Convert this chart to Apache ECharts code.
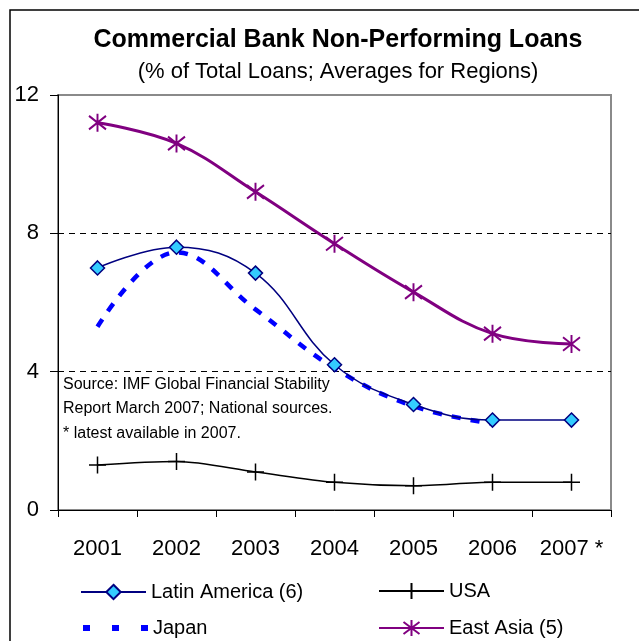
<!DOCTYPE html>
<html>
<head>
<meta charset="utf-8">
<script src="https://cdn.jsdelivr.net/npm/echarts@6/dist/echarts.min.js"></script>
<style>
  html, body { margin: 0; padding: 0; background: #fff; }
  #chart { width: 639px; height: 641px; }
</style>
</head>
<body>
<div id="chart"></div>
<script>
// Years on the category axis ("*" = latest available in 2007)
const years = ['2001', '2002', '2003', '2004', '2005', '2006', '2007 *'];

// Non-performing loans, % of total loans (regional averages)
const latinAmerica = [7.0, 7.6, 6.85, 4.2, 3.05, 2.6, 2.6];
const japan = [5.3, 7.45, 5.8, 4.1, 3.0, 2.5, null];
const usa = [1.3, 1.4, 1.1, 0.8, 0.7, 0.8, 0.8];
const eastAsia = [11.2, 10.6, 9.2, 7.7, 6.3, 5.1, 4.8];

// Value axis ticks
const yTicks = [0, 4, 8, 12];

const FONT = '"Liberation Sans", Arial, sans-serif';

const plusPath = 'path://M8,0 L8,16 M0,8 L16,8';
const starPath = 'path://M8,0 L8,16 M1,2 L15,14 M15,2 L1,14';

const chart = echarts.init(document.getElementById('chart'), null, { renderer: 'canvas' });

function legendAt(item, left, top, iconHeight) {
  return {
    data: [item],
    left: left,
    top: top,
    orient: 'horizontal',
    itemWidth: 65,
    itemHeight: iconHeight,
    itemGap: 0,
    padding: 0,
    textStyle: { fontFamily: FONT, fontSize: 20, color: '#000', padding: [0, 0, 0, 0] },
    selectedMode: false
  };
}

const option = {
  backgroundColor: '#fff',
  animation: false,
  textStyle: { fontFamily: FONT },
  grid: {
    left: 58, right: 28, top: 95, bottom: 131,
    show: true,
    borderColor: '#8a8a8a',
    borderWidth: 2,
    backgroundColor: 'transparent'
  },
  legend: [
    legendAt('Latin America (6)', 80, 582, 18),
    legendAt('USA', 378, 581, 20),
    legendAt({
      name: 'Japan',
      itemStyle: { opacity: 0 },
      lineStyle: { width: 6, type: [7, 22], cap: 'butt' }
    }, 80, 618, 20),
    legendAt('East Asia (5)', 378, 618, 20)
  ],
  xAxis: {
    type: 'category',
    data: years,
    boundaryGap: true,
    axisLine: { show: true, lineStyle: { color: '#000', width: 1 } },
    axisTick: { show: true, inside: false, length: 7, lineStyle: { color: '#000' } },
    axisLabel: { fontFamily: FONT, fontSize: 22, color: '#000', margin: 28, interval: 0 },
    splitLine: { show: false }
  },
  yAxis: {
    type: 'value',
    min: yTicks[0],
    max: yTicks[yTicks.length - 1],
    interval: yTicks[1] - yTicks[0],
    axisLine: { show: true, lineStyle: { color: '#000', width: 1 } },
    axisTick: { show: true, inside: false, length: 8, lineStyle: { color: '#000' } },
    axisLabel: { fontFamily: FONT, fontSize: 22, color: '#000', margin: 19 },
    splitLine: {
      show: true,
      showMinLine: false,
      showMaxLine: false,
      lineStyle: { color: '#000', type: [6, 5], width: 1 }
    }
  },
  graphic: [
    // outer frame (left and top edges)
    {
      type: 'polyline',
      shape: { points: [[10, 660], [10, 10], [660, 10]] },
      style: { stroke: '#000', lineWidth: 1.5, fill: null },
      silent: true
    },
    {
      type: 'text',
      x: 338, y: 40,
      style: {
        text: 'Commercial Bank Non-Performing Loans',
        font: 'bold 25px ' + FONT,
        fill: '#000',
        textAlign: 'center',
        textVerticalAlign: 'middle'
      }
    },
    {
      type: 'text',
      x: 338, y: 72,
      style: {
        text: '(% of Total Loans; Averages for Regions)',
        font: '22px ' + FONT,
        fill: '#000',
        textAlign: 'center',
        textVerticalAlign: 'middle'
      }
    },
    {
      type: 'text',
      x: 63, y: 372,
      z: 10,
      style: {
        text: 'Source: IMF Global Financial Stability\nReport March 2007; National sources.\n* latest available in 2007.',
        font: '16px ' + FONT,
        lineHeight: 24.5,
        fill: '#000',
        textAlign: 'left',
        textVerticalAlign: 'top'
      }
    }
  ],
  series: [
    {
      name: 'Japan',
      type: 'line',
      data: japan,
      smooth: 0.4,
      showSymbol: false,
      symbol: 'none',
      color: '#0000ff',
      lineStyle: { color: '#0000ff', width: 4.5, type: [9, 10] },
      z: 2
    },
    {
      name: 'USA',
      type: 'line',
      data: usa,
      smooth: 0.3,
      symbol: plusPath,
      symbolSize: 17,
      color: '#000',
      itemStyle: { color: '#000', borderColor: '#000', borderWidth: 1.5 },
      lineStyle: { color: '#000', width: 1.5 },
      z: 3
    },
    {
      name: 'East Asia (5)',
      type: 'line',
      data: eastAsia,
      smooth: 0.4,
      symbol: starPath,
      symbolSize: [17, 18],
      color: '#800080',
      itemStyle: { color: '#800080', borderColor: '#800080', borderWidth: 2 },
      lineStyle: { color: '#800080', width: 3 },
      z: 3
    },
    {
      name: 'Latin America (6)',
      type: 'line',
      data: latinAmerica,
      smooth: 0.4,
      symbol: 'diamond',
      symbolSize: 14,
      color: '#000080',
      itemStyle: { color: '#33ccff', borderColor: '#000080', borderWidth: 1.5 },
      lineStyle: { color: '#000080', width: 1.5 },
      z: 4
    }
  ]
};

chart.setOption(option);
</script>
</body>
</html>
